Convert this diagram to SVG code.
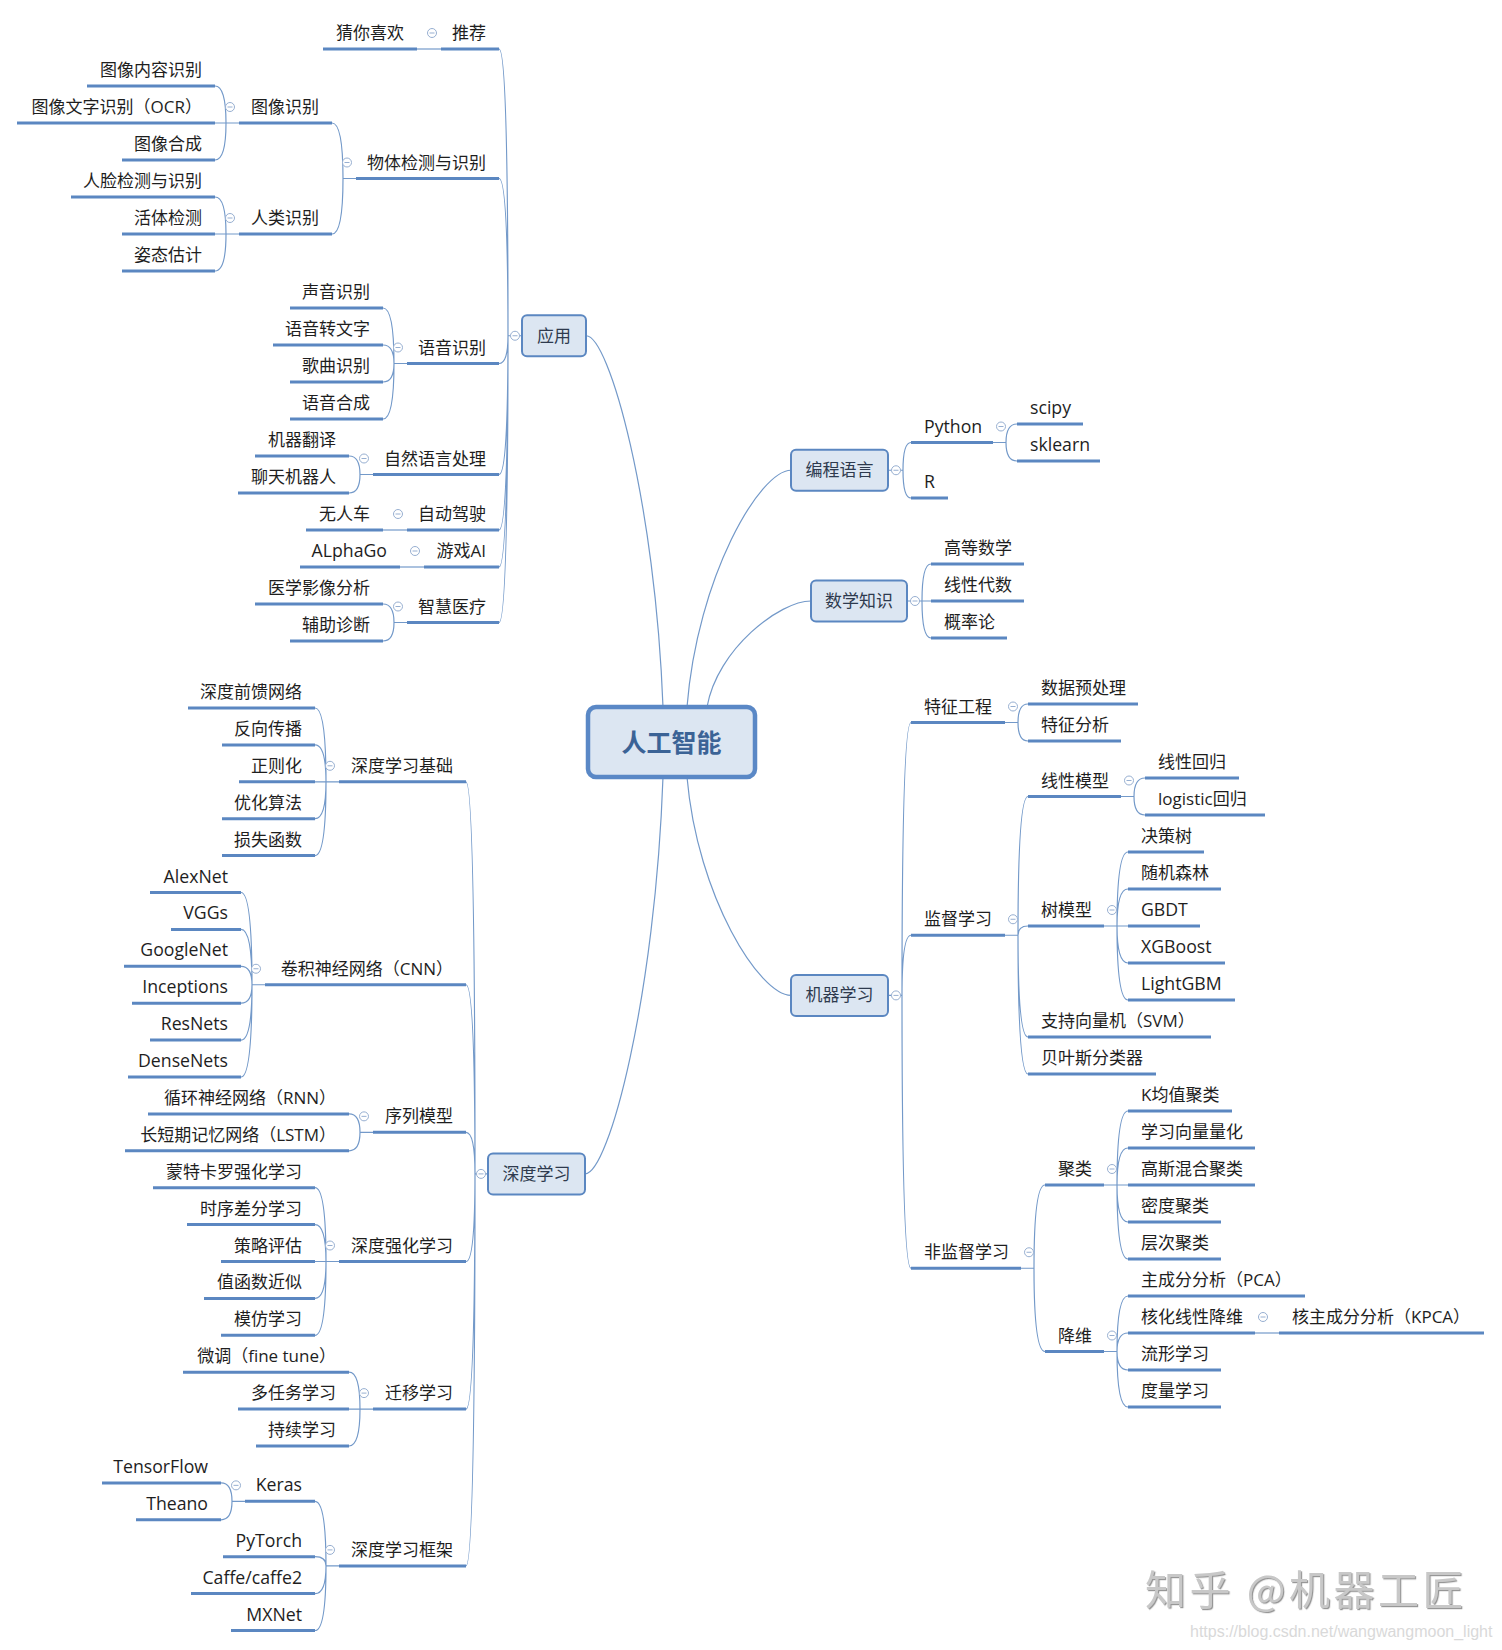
<svg xmlns="http://www.w3.org/2000/svg" width="1502" height="1650" viewBox="0 0 1502 1650">
<style>
.ul{stroke:#5b87c1;stroke-width:3;fill:none}
.c{fill:none;stroke:#7399c9;stroke-width:1.2}
.t{font-family:"Open Sans","Noto Sans CJK SC",sans-serif;font-size:17px;fill:#1e1e1e}
.en{font-size:17.7px}
.l{text-anchor:end}
.box{fill:#dce6f2;stroke:#5b87c1;stroke-width:2}
.bt{font-family:"Noto Sans CJK SC",sans-serif;font-size:17px;fill:#2e3a4e;text-anchor:middle}
.root{fill:#dce6f2;stroke:#5a88c6;stroke-width:4.5}
.rt{font-family:"Noto Sans CJK SC",sans-serif;font-size:25px;font-weight:bold;fill:#3b6396;text-anchor:middle}
</style>
<defs>
<g id="cm"><circle r="4.5" fill="#fff" stroke="#97afd1" stroke-width="1"/><line x1="-2.5" x2="2.5" y1="0" y2="0" stroke="#97afd1" stroke-width="1"/></g>
<filter id="emb" x="-5%" y="-20%" width="110%" height="140%"><feDropShadow dx="1.2" dy="1.2" stdDeviation="0.3" flood-color="#8c8c8c" flood-opacity="0.9"/></filter>
</defs>
<rect width="1502" height="1650" fill="#fff"/>

<g id="connectors">
<path class="c" d="M663,707 C655.3,502.4 609.1,335 586,335.75"/>
<path class="c" d="M687,707 C697.4,576.8 759.8,470.25 791,470.25"/>
<path class="c" d="M707,707 C717.4,648.7 779.8,601 811,601"/>
<path class="c" d="M687,777 C697.4,897.1 759.8,995.4 791,995.4"/>
<path class="c" d="M663,777 C655.3,995.3 609.1,1173.9 585,1173.9"/>
<path class="c" d="M508,335.75 Q508,49 499,49 M508,335.75 Q508,178.5 499,178.5 M508,335.75 Q508,363.5 499,363.5 M508,335.75 Q508,474.5 499,474.5 M508,335.75 Q508,530 499,530 M508,335.75 Q508,567 499,567 M508,335.75 Q508,622.5 499,622.5 M508,335.75 H522"/>
<path class="c" d="M417,49 H441"/>
<path class="c" d="M226,123 Q226,86 215,86 M226,123 Q226,160 215,160 M215,123 H239"/>
<path class="c" d="M226,234 Q226,197 215,197 M226,234 Q226,271 215,271 M215,234 H239"/>
<path class="c" d="M343,178.5 Q343,123 332,123 M343,178.5 Q343,234 332,234 M343,178.5 H356"/>
<path class="c" d="M394,363.5 Q394,308 383,308 M394,363.5 Q394,345 383,345 M394,363.5 Q394,382 383,382 M394,363.5 Q394,419 383,419 M394,363.5 H407"/>
<path class="c" d="M360,474.5 Q360,456 349,456 M360,474.5 Q360,493 349,493 M360,474.5 H373"/>
<path class="c" d="M383,530 H407"/>
<path class="c" d="M400,567 H424"/>
<path class="c" d="M394,622.5 Q394,604 383,604 M394,622.5 Q394,641 383,641 M394,622.5 H407"/>
<path class="c" d="M475,1173.9 Q475,781.8 466,781.8 M475,1173.9 Q475,984.75 466,984.75 M475,1173.9 Q475,1132.35 466,1132.35 M475,1173.9 Q475,1261.5 466,1261.5 M475,1173.9 Q475,1409.1 466,1409.1 M475,1173.9 Q475,1565.9 466,1565.9 M475,1173.9 H488"/>
<path class="c" d="M326,781.8 Q326,708 315,708 M326,781.8 Q326,744.9 315,744.9 M326,781.8 Q326,818.7 315,818.7 M326,781.8 Q326,855.6 315,855.6 M315,781.8 H339"/>
<path class="c" d="M252,984.75 Q252,892.5 241,892.5 M252,984.75 Q252,929.4 241,929.4 M252,984.75 Q252,966.3 241,966.3 M252,984.75 Q252,1003.2 241,1003.2 M252,984.75 Q252,1040.1 241,1040.1 M252,984.75 Q252,1077 241,1077 M252,984.75 H265"/>
<path class="c" d="M360,1132.35 Q360,1113.9 349,1113.9 M360,1132.35 Q360,1150.8 349,1150.8 M360,1132.35 H373"/>
<path class="c" d="M326,1261.5 Q326,1187.7 315,1187.7 M326,1261.5 Q326,1224.6 315,1224.6 M326,1261.5 Q326,1298.4 315,1298.4 M326,1261.5 Q326,1335.3 315,1335.3 M315,1261.5 H339"/>
<path class="c" d="M360,1409.1 Q360,1372.2 349,1372.2 M360,1409.1 Q360,1446 349,1446 M349,1409.1 H373"/>
<path class="c" d="M232,1501.35 Q232,1482.9 221,1482.9 M232,1501.35 Q232,1519.8 221,1519.8 M232,1501.35 H245"/>
<path class="c" d="M326,1565.9 Q326,1501.35 315,1501.35 M326,1565.9 Q326,1556.7 315,1556.7 M326,1565.9 Q326,1593.6 315,1593.6 M326,1565.9 Q326,1630.5 315,1630.5 M326,1565.9 H339"/>
<path class="c" d="M903,470.25 Q903,442.5 911,442.5 M903,470.25 Q903,498 911,498 M888,470.25 H903"/>
<path class="c" d="M1006,442.5 Q1006,424 1017,424 M1006,442.5 Q1006,461 1017,461 M993,442.5 H1006"/>
<path class="c" d="M922,601 Q922,564 931,564 M922,601 Q922,638 931,638 M907,601 H931"/>
<path class="c" d="M902,995.4 Q902,722.5 911,722.5 M902,995.4 Q902,935.25 911,935.25 M902,995.4 Q902,1268.25 911,1268.25 M888,995.4 H902"/>
<path class="c" d="M1018,722.5 Q1018,704 1028,704 M1018,722.5 Q1018,741 1028,741 M1005,722.5 H1018"/>
<path class="c" d="M1018,935.25 Q1018,796.5 1028,796.5 M1018,935.25 Q1018,926 1028,926 M1018,935.25 Q1018,1037 1028,1037 M1018,935.25 Q1018,1074 1028,1074 M1005,935.25 H1018"/>
<path class="c" d="M1134,796.5 Q1134,778 1145,778 M1134,796.5 Q1134,815 1145,815 M1121,796.5 H1134"/>
<path class="c" d="M1117,926 Q1117,852 1128,852 M1117,926 Q1117,889 1128,889 M1117,926 Q1117,963 1128,963 M1117,926 Q1117,1000 1128,1000 M1104,926 H1128"/>
<path class="c" d="M1034,1268.25 Q1034,1185 1045,1185 M1034,1268.25 Q1034,1351.5 1045,1351.5 M1021,1268.25 H1034"/>
<path class="c" d="M1117,1185 Q1117,1111 1128,1111 M1117,1185 Q1117,1148 1128,1148 M1117,1185 Q1117,1222 1128,1222 M1117,1185 Q1117,1259 1128,1259 M1104,1185 H1128"/>
<path class="c" d="M1117,1351.5 Q1117,1296 1128,1296 M1117,1351.5 Q1117,1333 1128,1333 M1117,1351.5 Q1117,1370 1128,1370 M1117,1351.5 Q1117,1407 1128,1407 M1104,1351.5 H1117"/>
<path class="c" d="M1255,1333 H1279"/>
</g>

<g id="n-root"><rect class="root" x="588" y="707" width="167" height="70" rx="8"/><text class="rt" x="671.5" y="752">人工智能</text></g>

<g id="n-yingyong"><rect class="box" x="522" y="315.25" width="64" height="41" rx="5"/><text class="bt" x="554" y="341.75">应用</text><use href="#cm" x="515" y="335.75"/></g>
<g id="n-shendu"><rect class="box" x="488" y="1153.4" width="97" height="41" rx="5"/><text class="bt" x="536.5" y="1179.9">深度学习</text><use href="#cm" x="481" y="1173.9"/></g>
<g id="n-biancheng"><rect class="box" x="791" y="449.75" width="97" height="41" rx="5"/><text class="bt" x="839.5" y="476.25">编程语言</text><use href="#cm" x="896" y="470.25"/></g>
<g id="n-shuxue"><rect class="box" x="811" y="580.5" width="96" height="41" rx="5"/><text class="bt" x="859" y="607">数学知识</text><use href="#cm" x="915" y="601"/></g>
<g id="n-jiqi"><rect class="box" x="791" y="974.9" width="97" height="41" rx="5"/><text class="bt" x="839.5" y="1001.4">机器学习</text><use href="#cm" x="896" y="995.4"/></g>

<g id="n-cainixihuan"><line class="ul" x1="323" x2="417" y1="49" y2="49"/><text class="t l" x="404" y="39">猜你喜欢</text></g>
<g id="n-tuijian"><line class="ul" x1="441" x2="499" y1="49" y2="49"/><text class="t l" x="486" y="39">推荐</text><use href="#cm" x="432" y="33"/></g>
<g id="n-txnr"><line class="ul" x1="87" x2="215" y1="86" y2="86"/><text class="t l" x="202" y="76">图像内容识别</text></g>
<g id="n-ocr"><line class="ul" x1="17" x2="215" y1="123" y2="123"/><text class="t l" x="202" y="113">图像文字识别（OCR）</text></g>
<g id="n-txhc"><line class="ul" x1="122" x2="215" y1="160" y2="160"/><text class="t l" x="202" y="150">图像合成</text></g>
<g id="n-txsb"><line class="ul" x1="239" x2="332" y1="123" y2="123"/><text class="t l" x="319" y="113">图像识别</text><use href="#cm" x="230" y="107"/></g>
<g id="n-rljc"><line class="ul" x1="71" x2="215" y1="197" y2="197"/><text class="t l" x="202" y="187">人脸检测与识别</text></g>
<g id="n-htjc"><line class="ul" x1="122" x2="215" y1="234" y2="234"/><text class="t l" x="202" y="224">活体检测</text></g>
<g id="n-tygj"><line class="ul" x1="122" x2="215" y1="271" y2="271"/><text class="t l" x="202" y="261">姿态估计</text></g>
<g id="n-rlsb"><line class="ul" x1="239" x2="332" y1="234" y2="234"/><text class="t l" x="319" y="224">人类识别</text><use href="#cm" x="230" y="218"/></g>
<g id="n-wtjc"><line class="ul" x1="356" x2="499" y1="178.5" y2="178.5"/><text class="t l" x="486" y="168.5">物体检测与识别</text><use href="#cm" x="347" y="162.5"/></g>
<g id="n-sysb"><line class="ul" x1="290" x2="383" y1="308" y2="308"/><text class="t l" x="370" y="298">声音识别</text></g>
<g id="n-yyzwz"><line class="ul" x1="273" x2="383" y1="345" y2="345"/><text class="t l" x="370" y="335">语音转文字</text></g>
<g id="n-gqsb"><line class="ul" x1="290" x2="383" y1="382" y2="382"/><text class="t l" x="370" y="372">歌曲识别</text></g>
<g id="n-yyhc"><line class="ul" x1="290" x2="383" y1="419" y2="419"/><text class="t l" x="370" y="409">语音合成</text></g>
<g id="n-yysb"><line class="ul" x1="407" x2="499" y1="363.5" y2="363.5"/><text class="t l" x="486" y="353.5">语音识别</text><use href="#cm" x="398" y="347.5"/></g>
<g id="n-jqfy"><line class="ul" x1="255" x2="349" y1="456" y2="456"/><text class="t l" x="336" y="446">机器翻译</text></g>
<g id="n-ltjqr"><line class="ul" x1="238" x2="349" y1="493" y2="493"/><text class="t l" x="336" y="483">聊天机器人</text></g>
<g id="n-nlp"><line class="ul" x1="373" x2="499" y1="474.5" y2="474.5"/><text class="t l" x="486" y="464.5">自然语言处理</text><use href="#cm" x="364" y="458.5"/></g>
<g id="n-wrc"><line class="ul" x1="306" x2="383" y1="530" y2="530"/><text class="t l" x="370" y="520">无人车</text></g>
<g id="n-zdjs"><line class="ul" x1="407" x2="499" y1="530" y2="530"/><text class="t l" x="486" y="520">自动驾驶</text><use href="#cm" x="398" y="514"/></g>
<g id="n-alphago"><line class="ul" x1="300" x2="400" y1="567" y2="567"/><text class="t en l" x="387" y="557">ALphaGo</text></g>
<g id="n-yxai"><line class="ul" x1="424" x2="499" y1="567" y2="567"/><text class="t l" x="486" y="557">游戏AI</text><use href="#cm" x="415" y="551"/></g>
<g id="n-yxyx"><line class="ul" x1="255" x2="383" y1="604" y2="604"/><text class="t l" x="370" y="594">医学影像分析</text></g>
<g id="n-fzzd"><line class="ul" x1="290" x2="383" y1="641" y2="641"/><text class="t l" x="370" y="631">辅助诊断</text></g>
<g id="n-zhyl"><line class="ul" x1="407" x2="499" y1="622.5" y2="622.5"/><text class="t l" x="486" y="612.5">智慧医疗</text><use href="#cm" x="398" y="606.5"/></g>

<g id="n-sdqk"><line class="ul" x1="188" x2="315" y1="708" y2="708"/><text class="t l" x="302" y="698">深度前馈网络</text></g>
<g id="n-fxcb"><line class="ul" x1="222" x2="315" y1="744.9" y2="744.9"/><text class="t l" x="302" y="734.9">反向传播</text></g>
<g id="n-zzh"><line class="ul" x1="239" x2="315" y1="781.8" y2="781.8"/><text class="t l" x="302" y="771.8">正则化</text></g>
<g id="n-yhsf"><line class="ul" x1="222" x2="315" y1="818.7" y2="818.7"/><text class="t l" x="302" y="808.7">优化算法</text></g>
<g id="n-sshs"><line class="ul" x1="222" x2="315" y1="855.6" y2="855.6"/><text class="t l" x="302" y="845.6">损失函数</text></g>
<g id="n-sdjc"><line class="ul" x1="339" x2="466" y1="781.8" y2="781.8"/><text class="t l" x="453" y="771.8">深度学习基础</text><use href="#cm" x="330" y="765.8"/></g>
<g id="n-alexnet"><line class="ul" x1="150" x2="241" y1="892.5" y2="892.5"/><text class="t en l" x="228" y="882.5">AlexNet</text></g>
<g id="n-vggs"><line class="ul" x1="171" x2="241" y1="929.4" y2="929.4"/><text class="t en l" x="228" y="919.4">VGGs</text></g>
<g id="n-googlenet"><line class="ul" x1="124" x2="241" y1="966.3" y2="966.3"/><text class="t en l" x="228" y="956.3">GoogleNet</text></g>
<g id="n-inceptions"><line class="ul" x1="132" x2="241" y1="1003.2" y2="1003.2"/><text class="t en l" x="228" y="993.2">Inceptions</text></g>
<g id="n-resnets"><line class="ul" x1="150" x2="241" y1="1040.1" y2="1040.1"/><text class="t en l" x="228" y="1030.1">ResNets</text></g>
<g id="n-densenets"><line class="ul" x1="128" x2="241" y1="1077" y2="1077"/><text class="t en l" x="228" y="1067">DenseNets</text></g>
<g id="n-cnn"><line class="ul" x1="265" x2="466" y1="984.75" y2="984.75"/><text class="t l" x="453" y="974.75">卷积神经网络（CNN）</text><use href="#cm" x="256" y="968.75"/></g>
<g id="n-rnn"><line class="ul" x1="148" x2="349" y1="1113.9" y2="1113.9"/><text class="t l" x="336" y="1103.9">循环神经网络（RNN）</text></g>
<g id="n-lstm"><line class="ul" x1="125" x2="349" y1="1150.8" y2="1150.8"/><text class="t l" x="336" y="1140.8">长短期记忆网络（LSTM）</text></g>
<g id="n-xlmx"><line class="ul" x1="373" x2="466" y1="1132.35" y2="1132.35"/><text class="t l" x="453" y="1122.35">序列模型</text><use href="#cm" x="364" y="1116.35"/></g>
<g id="n-mtkl"><line class="ul" x1="153" x2="315" y1="1187.7" y2="1187.7"/><text class="t l" x="302" y="1177.7">蒙特卡罗强化学习</text></g>
<g id="n-sxcf"><line class="ul" x1="187" x2="315" y1="1224.6" y2="1224.6"/><text class="t l" x="302" y="1214.6">时序差分学习</text></g>
<g id="n-clpg"><line class="ul" x1="221" x2="315" y1="1261.5" y2="1261.5"/><text class="t l" x="302" y="1251.5">策略评估</text></g>
<g id="n-zhsjs"><line class="ul" x1="204" x2="315" y1="1298.4" y2="1298.4"/><text class="t l" x="302" y="1288.4">值函数近似</text></g>
<g id="n-mfxx"><line class="ul" x1="221" x2="315" y1="1335.3" y2="1335.3"/><text class="t l" x="302" y="1325.3">模仿学习</text></g>
<g id="n-sdqh"><line class="ul" x1="339" x2="466" y1="1261.5" y2="1261.5"/><text class="t l" x="453" y="1251.5">深度强化学习</text><use href="#cm" x="330" y="1245.5"/></g>
<g id="n-wt"><line class="ul" x1="183" x2="349" y1="1372.2" y2="1372.2"/><text class="t l" x="336" y="1362.2">微调（fine tune）</text></g>
<g id="n-drw"><line class="ul" x1="238" x2="349" y1="1409.1" y2="1409.1"/><text class="t l" x="336" y="1399.1">多任务学习</text></g>
<g id="n-cxxx"><line class="ul" x1="256" x2="349" y1="1446" y2="1446"/><text class="t l" x="336" y="1436">持续学习</text></g>
<g id="n-qyxx"><line class="ul" x1="373" x2="466" y1="1409.1" y2="1409.1"/><text class="t l" x="453" y="1399.1">迁移学习</text><use href="#cm" x="364" y="1393.1"/></g>
<g id="n-tensorflow"><line class="ul" x1="102" x2="221" y1="1482.9" y2="1482.9"/><text class="t en l" x="208" y="1472.9">TensorFlow</text></g>
<g id="n-theano"><line class="ul" x1="136" x2="221" y1="1519.8" y2="1519.8"/><text class="t en l" x="208" y="1509.8">Theano</text></g>
<g id="n-keras"><line class="ul" x1="245" x2="315" y1="1501.35" y2="1501.35"/><text class="t en l" x="302" y="1491.35">Keras</text><use href="#cm" x="236" y="1485.35"/></g>
<g id="n-pytorch"><line class="ul" x1="223" x2="315" y1="1556.7" y2="1556.7"/><text class="t en l" x="302" y="1546.7">PyTorch</text></g>
<g id="n-caffe"><line class="ul" x1="191" x2="315" y1="1593.6" y2="1593.6"/><text class="t en l" x="302" y="1583.6">Caffe/caffe2</text></g>
<g id="n-mxnet"><line class="ul" x1="231" x2="315" y1="1630.5" y2="1630.5"/><text class="t en l" x="302" y="1620.5">MXNet</text></g>
<g id="n-sdkj"><line class="ul" x1="339" x2="466" y1="1565.9" y2="1565.9"/><text class="t l" x="453" y="1555.9">深度学习框架</text><use href="#cm" x="330" y="1549.9"/></g>

<g id="n-python"><line class="ul" x1="911" x2="993" y1="442.5" y2="442.5"/><text class="t en" x="924" y="432.5">Python</text><use href="#cm" x="1001" y="426.5"/></g>
<g id="n-scipy"><line class="ul" x1="1017" x2="1083" y1="424" y2="424"/><text class="t en" x="1030" y="414">scipy</text></g>
<g id="n-sklearn"><line class="ul" x1="1017" x2="1100" y1="461" y2="461"/><text class="t en" x="1030" y="451">sklearn</text></g>
<g id="n-r"><line class="ul" x1="911" x2="948" y1="498" y2="498"/><text class="t en" x="924" y="488">R</text></g>
<g id="n-gdsx"><line class="ul" x1="931" x2="1024" y1="564" y2="564"/><text class="t" x="944" y="554">高等数学</text></g>
<g id="n-xxds"><line class="ul" x1="931" x2="1024" y1="601" y2="601"/><text class="t" x="944" y="591">线性代数</text></g>
<g id="n-gll"><line class="ul" x1="931" x2="1007" y1="638" y2="638"/><text class="t" x="944" y="628">概率论</text></g>
<g id="n-tzgc"><line class="ul" x1="911" x2="1005" y1="722.5" y2="722.5"/><text class="t" x="924" y="712.5">特征工程</text><use href="#cm" x="1013" y="706.5"/></g>
<g id="n-sjycl"><line class="ul" x1="1028" x2="1138" y1="704" y2="704"/><text class="t" x="1041" y="694">数据预处理</text></g>
<g id="n-tzfx"><line class="ul" x1="1028" x2="1121" y1="741" y2="741"/><text class="t" x="1041" y="731">特征分析</text></g>
<g id="n-jdxx"><line class="ul" x1="911" x2="1005" y1="935.25" y2="935.25"/><text class="t" x="924" y="925.25">监督学习</text><use href="#cm" x="1013" y="919.25"/></g>
<g id="n-xxmx"><line class="ul" x1="1028" x2="1121" y1="796.5" y2="796.5"/><text class="t" x="1041" y="786.5">线性模型</text><use href="#cm" x="1129" y="780.5"/></g>
<g id="n-xxhg"><line class="ul" x1="1145" x2="1239" y1="778" y2="778"/><text class="t" x="1158" y="768">线性回归</text></g>
<g id="n-logistic"><line class="ul" x1="1145" x2="1265" y1="815" y2="815"/><text class="t" x="1158" y="805">logistic回归</text></g>
<g id="n-smx"><line class="ul" x1="1028" x2="1104" y1="926" y2="926"/><text class="t" x="1041" y="916">树模型</text><use href="#cm" x="1112" y="910"/></g>
<g id="n-jcs"><line class="ul" x1="1128" x2="1204" y1="852" y2="852"/><text class="t" x="1141" y="842">决策树</text></g>
<g id="n-sjsl"><line class="ul" x1="1128" x2="1221" y1="889" y2="889"/><text class="t" x="1141" y="879">随机森林</text></g>
<g id="n-gbdt"><line class="ul" x1="1128" x2="1200" y1="926" y2="926"/><text class="t en" x="1141" y="916">GBDT</text></g>
<g id="n-xgboost"><line class="ul" x1="1128" x2="1225" y1="963" y2="963"/><text class="t en" x="1141" y="953">XGBoost</text></g>
<g id="n-lightgbm"><line class="ul" x1="1128" x2="1235" y1="1000" y2="1000"/><text class="t en" x="1141" y="990">LightGBM</text></g>
<g id="n-svm"><line class="ul" x1="1028" x2="1211" y1="1037" y2="1037"/><text class="t" x="1041" y="1027">支持向量机（SVM）</text></g>
<g id="n-bys"><line class="ul" x1="1028" x2="1156" y1="1074" y2="1074"/><text class="t" x="1041" y="1064">贝叶斯分类器</text></g>
<g id="n-fjdxx"><line class="ul" x1="911" x2="1021" y1="1268.25" y2="1268.25"/><text class="t" x="924" y="1258.25">非监督学习</text><use href="#cm" x="1029" y="1252.25"/></g>
<g id="n-jl"><line class="ul" x1="1045" x2="1104" y1="1185" y2="1185"/><text class="t" x="1058" y="1175">聚类</text><use href="#cm" x="1112" y="1169"/></g>
<g id="n-kmeans"><line class="ul" x1="1128" x2="1232" y1="1111" y2="1111"/><text class="t" x="1141" y="1101">K均值聚类</text></g>
<g id="n-xxxl"><line class="ul" x1="1128" x2="1255" y1="1148" y2="1148"/><text class="t" x="1141" y="1138">学习向量量化</text></g>
<g id="n-gshh"><line class="ul" x1="1128" x2="1255" y1="1185" y2="1185"/><text class="t" x="1141" y="1175">高斯混合聚类</text></g>
<g id="n-mdjl"><line class="ul" x1="1128" x2="1221" y1="1222" y2="1222"/><text class="t" x="1141" y="1212">密度聚类</text></g>
<g id="n-ccjl"><line class="ul" x1="1128" x2="1221" y1="1259" y2="1259"/><text class="t" x="1141" y="1249">层次聚类</text></g>
<g id="n-jw"><line class="ul" x1="1045" x2="1104" y1="1351.5" y2="1351.5"/><text class="t" x="1058" y="1341.5">降维</text><use href="#cm" x="1112" y="1335.5"/></g>
<g id="n-pca"><line class="ul" x1="1128" x2="1305" y1="1296" y2="1296"/><text class="t" x="1141" y="1286">主成分分析（PCA）</text></g>
<g id="n-hhxx"><line class="ul" x1="1128" x2="1255" y1="1333" y2="1333"/><text class="t" x="1141" y="1323">核化线性降维</text><use href="#cm" x="1263" y="1317"/></g>
<g id="n-kpca"><line class="ul" x1="1279" x2="1484" y1="1333" y2="1333"/><text class="t" x="1292" y="1323">核主成分分析（KPCA）</text></g>
<g id="n-lxxx"><line class="ul" x1="1128" x2="1221" y1="1370" y2="1370"/><text class="t" x="1141" y="1360">流形学习</text></g>
<g id="n-dlxx"><line class="ul" x1="1128" x2="1221" y1="1407" y2="1407"/><text class="t" x="1141" y="1397">度量学习</text></g>

<g id="watermark">
<text x="1145" y="1605" font-family="Noto Sans CJK SC, sans-serif" font-size="41" letter-spacing="3.5" fill="#c8c8c8" filter="url(#emb)">知乎 @机器工匠</text>
<text x="1190" y="1637" font-family="Liberation Sans, Arial, sans-serif" font-size="16" fill="#d9d9d9">https://blog.csdn.net/wangwangmoon_light</text>
</g>
</svg>
